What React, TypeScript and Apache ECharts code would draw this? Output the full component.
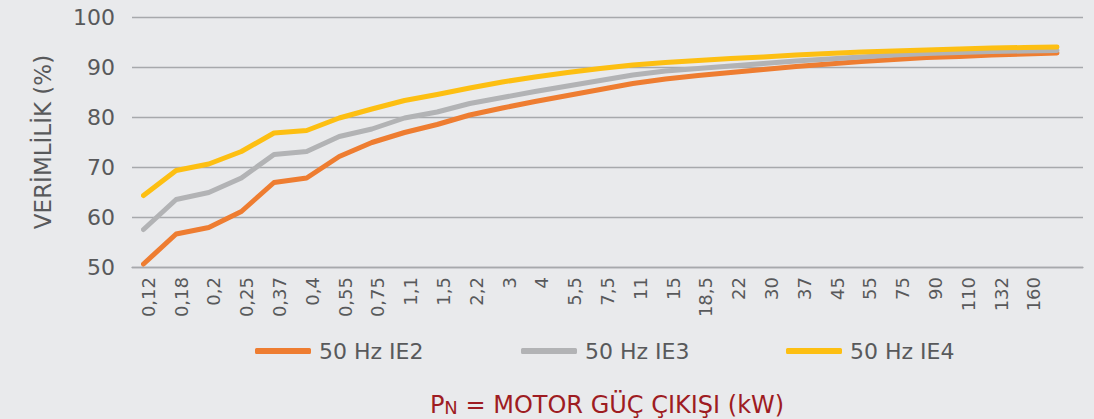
import React, { useEffect, useRef } from "react";
import * as echarts from "echarts";

const categories = [
  "0,12", "0,18", "0,2", "0,25", "0,37", "0,4", "0,55", "0,75", "1,1", "1,5",
  "2,2", "3", "4", "5,5", "7,5", "11", "15", "18,5", "22", "30",
  "37", "45", "55", "75", "90", "110", "132", "160", "",
];

const ie2 = [50.6, 56.6, 57.9, 61.1, 66.9, 67.8, 72.1, 74.9, 76.9, 78.5, 80.4, 81.8, 83.1, 84.3, 85.5, 86.7, 87.6, 88.3, 88.9, 89.5, 90.1, 90.6, 91.1, 91.5, 91.9, 92.1, 92.4, 92.6, 92.8];
const ie3 = [57.5, 63.5, 64.9, 67.8, 72.5, 73.1, 76.1, 77.6, 79.8, 81.0, 82.7, 83.9, 85.1, 86.2, 87.3, 88.4, 89.2, 89.7, 90.2, 90.7, 91.2, 91.6, 92.0, 92.4, 92.7, 92.9, 93.1, 93.2, 93.3];
const ie4 = [64.3, 69.3, 70.6, 73.1, 76.8, 77.3, 79.8, 81.6, 83.3, 84.5, 85.8, 87.0, 88.0, 88.9, 89.7, 90.4, 90.9, 91.3, 91.7, 92.0, 92.4, 92.7, 93.0, 93.2, 93.4, 93.6, 93.8, 93.9, 94.0];

const seriesNames = ["50 Hz IE2", "50 Hz IE3", "50 Hz IE4"];
const seriesColors = ["#EE7D31", "#B2B3B5", "#FDBF12"];
const yTicks = { min: 50, max: 100, interval: 10 };

const FONT = "DejaVu Sans";
const TEXT = "#58595B";
const GRIDC = "#A7A9AC";
const RED = "#9E1C22";

export default function App() {
  const ref = useRef<HTMLDivElement>(null);
  useEffect(() => {
    if (!ref.current) return;
    const chart = echarts.init(ref.current, undefined, { renderer: "svg" });
    const values = [ie2, ie3, ie4];
    const legendLefts = [255, 521, 786];
    chart.setOption({
      animation: false,
      backgroundColor: "#E9EAEC",
      textStyle: { fontFamily: FONT },
      title: {
        text: "{p|P}{n|N}{t| = MOTOR GÜÇ ÇIKIŞI (kW)}",
        left: 607,
        top: 393,
        textAlign: "center",
        padding: 0,
        textStyle: {
          fontWeight: "normal",
          rich: {
            p: { fontSize: 24, color: RED, fontFamily: FONT, fontWeight: "normal", verticalAlign: "bottom" },
            n: { fontSize: 18, color: RED, fontFamily: FONT, fontWeight: "normal", verticalAlign: "bottom", padding: [0, 0, 1, 0] },
            t: { fontSize: 24, color: RED, fontFamily: FONT, fontWeight: "normal", verticalAlign: "bottom" },
          },
        },
      },
      legend: seriesNames.map((n, i) => ({
        data: [n],
        left: legendLefts[i],
        top: 340,
        padding: 0,
        icon: "roundRect",
        itemWidth: 56,
        itemHeight: 6,
        textStyle: { fontSize: 22, color: TEXT, fontFamily: FONT, padding: [0, 0, 0, 3] },
      })),
      grid: [
        { left: 132, right: 11, top: 17, bottom: 152 },
        { left: 143.5, right: 37, top: 17, bottom: 152 },
      ],
      xAxis: [
        {
          type: "category",
          gridIndex: 0,
          data: categories,
          boundaryGap: true,
          axisLine: { lineStyle: { color: GRIDC, width: 1.3 } },
          axisTick: { length: 10, lineStyle: { color: GRIDC, width: 1.3 }, interval: (i: number) => i < 28 },
          axisLabel: { rotate: 90, fontSize: 18, color: TEXT, margin: 10, interval: 0, fontFamily: FONT },
        },
        {
          type: "category",
          gridIndex: 1,
          data: categories,
          boundaryGap: false,
          show: false,
        },
      ],
      yAxis: [
        {
          type: "value",
          gridIndex: 0,
          min: yTicks.min,
          max: yTicks.max,
          interval: yTicks.interval,
          name: "VERİMLİLİK (%)",
          nameLocation: "middle",
          nameGap: 78,
          nameTextStyle: { fontSize: 23, color: TEXT, fontFamily: FONT },
          axisLine: { show: false },
          axisTick: { show: false },
          splitLine: { lineStyle: { color: GRIDC, width: 1.3 } },
          axisLabel: { fontSize: 22, color: TEXT, margin: 17, fontFamily: FONT },
        },
        {
          type: "value",
          gridIndex: 1,
          min: yTicks.min,
          max: yTicks.max,
          interval: yTicks.interval,
          show: false,
          splitLine: { show: false },
        },
      ],
      series: seriesNames.map((n, i) => ({
        name: n,
        type: "line",
        xAxisIndex: 1,
        yAxisIndex: 1,
        data: values[i],
        color: seriesColors[i],
        showSymbol: false,
        symbol: "none",
        lineStyle: { width: 5, color: seriesColors[i], cap: "round", join: "round" },
      })),
    });
    return () => chart.dispose();
  }, []);
  return (
    <div
      ref={ref}
      style={{ position: "fixed", left: 0, top: 0, width: 1094, height: 419, background: "#E9EAEC" }}
    />
  );
}
